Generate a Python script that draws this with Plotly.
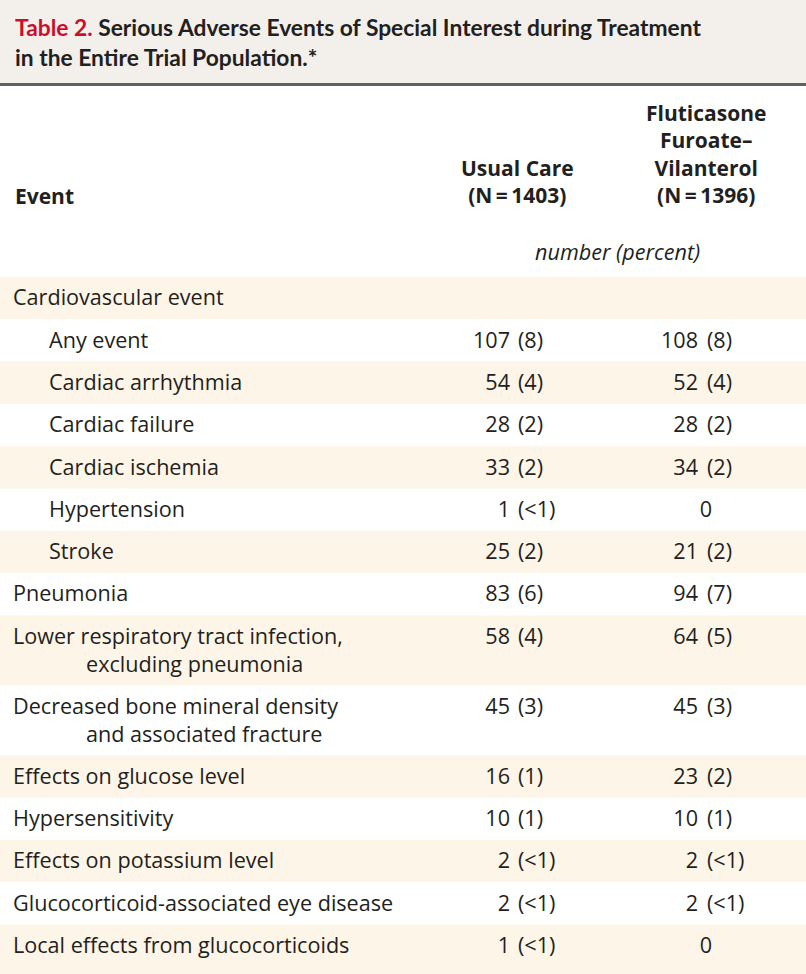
import plotly.graph_objects as go

# ---------------- data ----------------
title_label = "Table 2."
title_text = ["Serious Adverse Events of Special Interest during Treatment",
              "in the Entire Trial Population.*"]
col_headers = ["Event", "Usual Care<br>(N\u2009=\u20091403)",
               "Fluticasone<br>Furoate\u2013<br>Vilanterol<br>(N\u2009=\u20091396)"]
unit_label = "number (percent)"

events = ["Cardiovascular event", "Any event", "Cardiac arrhythmia", "Cardiac failure",
          "Cardiac ischemia", "Hypertension", "Stroke", "Pneumonia",
          "Lower respiratory tract infection,", "Decreased bone mineral density",
          "Effects on glucose level", "Hypersensitivity", "Effects on potassium level",
          "Glucocorticoid-associated eye disease", "Local effects from glucocorticoids"]
continuation = ["", "", "", "", "", "", "", "", "excluding pneumonia",
                "and associated fracture", "", "", "", "", ""]
indent_level = [0, 1, 1, 1, 1, 1, 1, 0, 0, 0, 0, 0, 0, 0, 0]
usual_n = [None, 107, 54, 28, 33, 1, 25, 83, 58, 45, 16, 10, 2, 2, 1]
usual_pct = [None, "8", "4", "2", "2", "<1", "2", "6", "4", "3", "1", "1", "<1", "<1", "<1"]
flut_n = [None, 108, 52, 28, 34, 0, 21, 94, 64, 45, 23, 10, 2, 2, 0]
flut_pct = [None, "8", "4", "2", "2", None, "2", "7", "5", "3", "2", "1", "<1", "<1", None]

# ---------------- layout constants ----------------
W, H = 806, 974
BODY_FONT = "Open Sans, Noto Sans, DejaVu Sans, sans-serif"
TITLE_FONT = "Lato, Roboto, sans-serif"
TXT = "#231f20"
SHADE = "#fdf5e8"
FS = 21.6
row_top0 = 277
single_h = 42.3
double_h = 70
line_gap = 28
x_label = [13, 49]
x_cont = 86
uc_num_right, uc_pct_left, uc_center = 510, 518, 517
fl_num_right, fl_pct_left, fl_center = 698, 707, 706

fig = go.Figure()
shapes = []
# title band
shapes.append(dict(type="rect", xref="x", yref="y", x0=0, x1=W, y0=0, y1=83,
                   fillcolor="#f3f0ec", line_width=0, layer="below"))
shapes.append(dict(type="rect", xref="x", yref="y", x0=0, x1=W, y0=83, y1=86,
                   fillcolor="#616161", line_width=0, layer="below"))

# rows
centers = []
y = row_top0
for i, ev in enumerate(events):
    h = double_h if continuation[i] else single_h
    h_draw = (H - y) if i == len(events) - 1 else h
    centers.append(y + 23)
    if i % 2 == 0:
        shapes.append(dict(type="rect", xref="x", yref="y", x0=0, x1=W, y0=y, y1=y + h_draw,
                           fillcolor=SHADE, line_width=0, layer="below"))
    y += h

# labels
lab_x, lab_y, lab_t = [], [], []
for i, ev in enumerate(events):
    lab_x.append(x_label[indent_level[i]]); lab_y.append(centers[i]); lab_t.append(ev)
    if continuation[i]:
        lab_x.append(x_cont); lab_y.append(centers[i] + line_gap); lab_t.append(continuation[i])
fig.add_trace(go.Scatter(x=lab_x, y=lab_y, text=lab_t, mode="text", textposition="middle right",
                         textfont=dict(family=BODY_FONT, size=FS, color=TXT), hoverinfo="skip"))

# numbers
def add_col(ns, pcts, num_right, pct_left, center):
    nx, ny, nt, px, py, pt, cx, cy, ct = [], [], [], [], [], [], [], [], []
    for i in range(len(ns)):
        if ns[i] is None:
            continue
        if pcts[i] is None:
            cx.append(center); cy.append(centers[i]); ct.append(str(ns[i]))
        else:
            nx.append(num_right); ny.append(centers[i]); nt.append(str(ns[i]))
            px.append(pct_left); py.append(centers[i]); pt.append("(" + pcts[i] + ")")
    f = dict(family=BODY_FONT, size=FS, color=TXT)
    fig.add_trace(go.Scatter(x=nx, y=ny, text=nt, mode="text", textposition="middle left",
                             textfont=f, hoverinfo="skip"))
    fig.add_trace(go.Scatter(x=px, y=py, text=pt, mode="text", textposition="middle right",
                             textfont=f, hoverinfo="skip"))
    fig.add_trace(go.Scatter(x=cx, y=cy, text=ct, mode="text", textposition="middle center",
                             textfont=f, hoverinfo="skip"))

add_col(usual_n, usual_pct, uc_num_right, uc_pct_left, uc_center)
add_col(flut_n, flut_pct, fl_num_right, fl_pct_left, fl_center)

annotations = []
# title
annotations.append(dict(x=13, y=27, xref="x", yref="y", xanchor="left", yanchor="middle",
                        showarrow=False,
                        text="<b><span style='color:#c8102e'>" + title_label + "</span> " + title_text[0] + "</b>",
                        font=dict(family=TITLE_FONT, size=22.8, color=TXT)))
annotations.append(dict(x=13, y=57, xref="x", yref="y", xanchor="left", yanchor="middle",
                        showarrow=False, text="<b>" + title_text[1] + "</b>",
                        font=dict(family=TITLE_FONT, size=22.8, color=TXT)))

hf = dict(family=BODY_FONT, size=21, color=TXT)
annotations.append(dict(x=13, y=196, xref="x", yref="y", xanchor="left", yanchor="middle",
                        showarrow=False, text="<b>" + col_headers[0] + "</b>", font=hf))
annotations.append(dict(x=uc_center, y=211, xref="x", yref="y", xanchor="center", yanchor="bottom",
                        showarrow=False, align="center", text="<b>" + col_headers[1] + "</b>", font=hf))
annotations.append(dict(x=fl_center, y=211, xref="x", yref="y", xanchor="center", yanchor="bottom",
                        showarrow=False, align="center", text="<b>" + col_headers[2] + "</b>", font=hf))
annotations.append(dict(x=617, y=251, xref="x", yref="y", xanchor="center", yanchor="middle",
                        showarrow=False, text="<i>" + unit_label + "</i>",
                        font=dict(family=BODY_FONT, size=FS, color=TXT)))

fig.update_layout(
    width=W, height=H, margin=dict(l=0, r=0, t=0, b=0),
    paper_bgcolor="white", plot_bgcolor="white", showlegend=False,
    xaxis=dict(range=[0, W], visible=False, fixedrange=True),
    yaxis=dict(range=[H, 0], visible=False, fixedrange=True),
    shapes=shapes, annotations=annotations,
)
fig.write_html("out.html", config={"displayModeBar": False},
               post_script="document.body.style.margin='0px';document.body.style.overflow='hidden';")
